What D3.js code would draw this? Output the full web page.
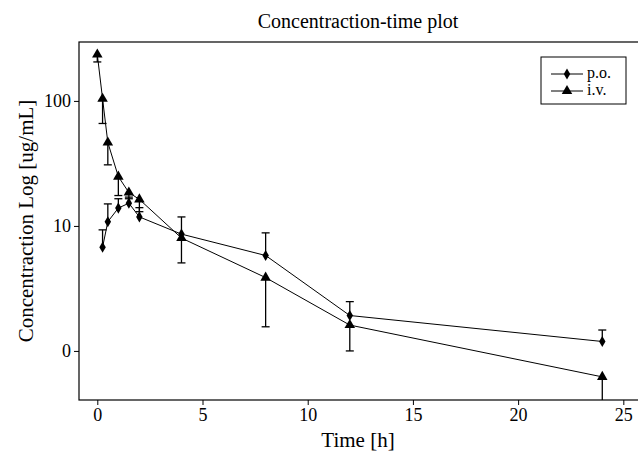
<!DOCTYPE html>
<html>
<head>
<script src="https://d3js.org/d3.v7.min.js"></script>
<style>
body { margin: 0; background: #fff; }
svg { font-family: "Liberation Serif", "Times New Roman", serif; }
.axis { font-family: "Liberation Serif", "Times New Roman", serif; }
.axis text { font-size: 18px; fill: #000; }
.axis path, .axis line { stroke: #000; fill: none; }
</style>
</head>
<body>
<svg id="chart" width="638" height="453"></svg>
<script>

// p.o. series
var poTime = [0.25, 0.5, 1, 1.5, 2, 4, 8, 12, 24];
var poConc = [6.75, 10.8, 13.9, 15.2, 11.8, 8.6, 5.8, 1.92, 1.19];
var poHigh = [9.3, 15.0, 16.5, 17.0, 14.0, 11.8, 8.8, 2.48, 1.47];

// i.v. series
var ivTime = [0, 0.25, 0.5, 1, 1.5, 2, 4, 8, 12, 24];
var ivConc = [235, 104, 46.5, 24.8, 18.5, 16.3, 8.0, 3.86, 1.61, 0.62];
var ivLow  = [205, 66, 30.8, 17.5, 16.5, 13.0, 5.06, 1.56, 1.0, 0.2];

var xTicks = [0, 5, 10, 15, 20, 25];
var yTicks = [1, 10, 100];
var yTickLabels = ["0", "10", "100"];

var margin = {top: 42, right: 1, bottom: 53, left: 79},
    width = 638 - margin.left - margin.right,
    height = 453 - margin.top - margin.bottom;

var svg = d3.select("#chart");

var x = d3.scaleLinear().domain([-0.87, 25.65]).range([0, width]);
var y = d3.scaleLog().domain([0.405, 296]).range([height, 0]);

var g = svg.append("g")
    .attr("transform", "translate(" + margin.left + "," + margin.top + ")");

g.append("clipPath").attr("id", "clip")
  .append("rect").attr("width", width).attr("height", height);

// frame
g.append("rect")
    .attr("width", width + 2).attr("height", height)
    .attr("fill", "none").attr("stroke", "#000").attr("stroke-width", 1.2);

g.append("g")
    .attr("class", "axis")
    .attr("transform", "translate(0," + height + ")")
    .call(d3.axisBottom(x).tickValues(xTicks).tickSize(5).tickPadding(3).tickFormat(d3.format("d")))
    .call(function(a) { a.select(".domain").remove(); });

g.append("g")
    .attr("class", "axis")
    .call(d3.axisLeft(y).tickValues(yTicks).tickSize(5).tickPadding(3)
      .tickFormat(function(d, i) { return yTickLabels[i]; }))
    .call(function(a) { a.select(".domain").remove(); });

var plot = g.append("g").attr("clip-path", "url(#clip)");

var po = poTime.map(function(t, i) { return {t: t, c: poConc[i], e: poHigh[i]}; });
var iv = ivTime.map(function(t, i) { return {t: t, c: ivConc[i], e: ivLow[i]}; });

var line = d3.line()
    .x(function(d) { return x(d.t); })
    .y(function(d) { return y(d.c); });

[po, iv].forEach(function(data) {
  plot.append("path")
      .datum(data)
      .attr("d", line)
      .attr("fill", "none")
      .attr("stroke", "#000")
      .attr("stroke-width", 1);

  var bars = plot.selectAll(null).data(data).enter().append("g");
  bars.append("line")
      .attr("x1", function(d) { return x(d.t); })
      .attr("x2", function(d) { return x(d.t); })
      .attr("y1", function(d) { return y(d.c); })
      .attr("y2", function(d) { return y(d.e); })
      .attr("stroke", "#000").attr("stroke-width", 1.3);
  bars.append("line")
      .attr("x1", function(d) { return x(d.t) - 4; })
      .attr("x2", function(d) { return x(d.t) + 4; })
      .attr("y1", function(d) { return y(d.e); })
      .attr("y2", function(d) { return y(d.e); })
      .attr("stroke", "#000").attr("stroke-width", 1.3);
});

var circle = d3.symbol().type(d3.symbolDiamond).size(36);
var tri = d3.symbol().type(d3.symbolTriangle).size(48);

plot.selectAll(".po").data(po).enter().append("path")
    .attr("class", "po")
    .attr("d", circle)
    .attr("transform", function(d) { return "translate(" + x(d.t) + "," + y(d.c) + ")"; })
    .attr("fill", "#000");

plot.selectAll(".iv").data(iv).enter().append("path")
    .attr("class", "iv")
    .attr("d", tri)
    .attr("transform", function(d) { return "translate(" + x(d.t) + "," + y(d.c) + ")"; })
    .attr("fill", "#000");

// legend
var leg = svg.append("g").attr("transform", "translate(541,57)");
leg.append("rect")
    .attr("width", 85).attr("height", 47)
    .attr("fill", "#fff").attr("stroke", "#000").attr("stroke-width", 1);
var items = [{name: "p.o.", sym: circle}, {name: "i.v.", sym: tri}];
items.forEach(function(it, i) {
  var yy = 17 + i * 17;
  leg.append("line").attr("x1", 10).attr("x2", 42).attr("y1", yy).attr("y2", yy)
      .attr("stroke", "#000").attr("stroke-width", 1);
  leg.append("path").attr("d", it.sym).attr("fill", "#000")
      .attr("transform", "translate(26," + yy + ")");
  leg.append("text").attr("x", 46).attr("y", yy + 4)
      .style("font-size", "16px").text(it.name);
});

// titles
svg.append("text")
    .attr("x", margin.left + width / 2).attr("y", 28)
    .attr("text-anchor", "middle").style("font-size", "20px")
    .text("Concentraction-time plot");

svg.append("text")
    .attr("x", margin.left + width / 2).attr("y", 447)
    .attr("text-anchor", "middle").style("font-size", "21px")
    .text("Time [h]");

svg.append("text")
    .attr("transform", "translate(33," + (margin.top + height / 2) + ") rotate(-90)")
    .attr("text-anchor", "middle").style("font-size", "21px")
    .text("Concentraction Log [ug/mL]");

</script>
</body>
</html>
